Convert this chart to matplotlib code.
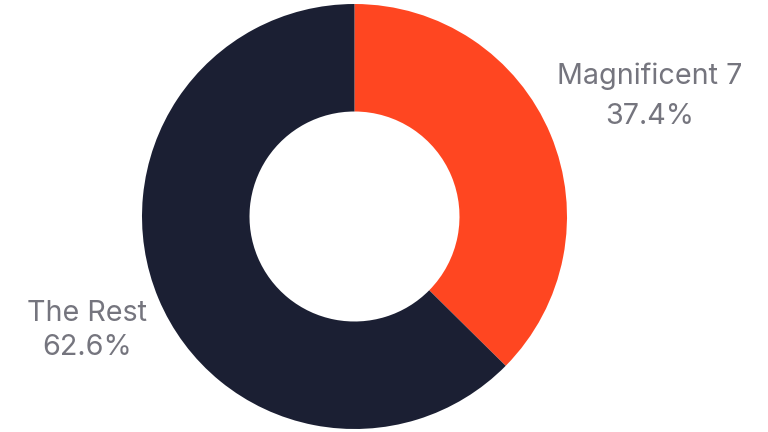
import numpy as np
import matplotlib
matplotlib.use("Agg")
import matplotlib.pyplot as plt

labels = ["Magnificent 7", "The Rest"]
values = [37.4, 62.6]
colors = ["#FF4621", "#1B1F33"]

fig = plt.figure(figsize=(7.68, 4.32), dpi=100)
ax = fig.add_axes([0, 0, 1, 1])

R = 212.5
cx, cy = 354.5, 432 - 216.5
ax.pie(values, colors=colors, startangle=90, counterclock=False,
       radius=R, center=(cx, cy),
       wedgeprops=dict(width=107.5, linewidth=0), frame=True)
ax.set_xlim(0, 768)
ax.set_ylim(0, 432)
ax.set_aspect("equal")
ax.axis("off")

# layout: label distance (in radii), baseline offsets of the two lines
dists = [1.506, 1.363]
offs = [(9.0, -30.5), (7.0, -26.5)]
total = sum(values)
start = 90.0
for lab, v, d, (o1, o2) in zip(labels, values, dists, offs):
    mid = np.deg2rad(start - 360 * v / total / 2)
    start -= 360 * v / total
    x = cx + R * d * np.cos(mid)
    y = cy + R * d * np.sin(mid)
    kw = dict(ha="center", va="baseline", fontsize=20.7, color="#75757E",
              family=["Inter", "DejaVu Sans"])
    ax.text(x, y + o1, lab, **kw)
    ax.text(x, y + o2, f"{v:.1f}%", **kw)

fig.savefig("out.png", dpi=100)
